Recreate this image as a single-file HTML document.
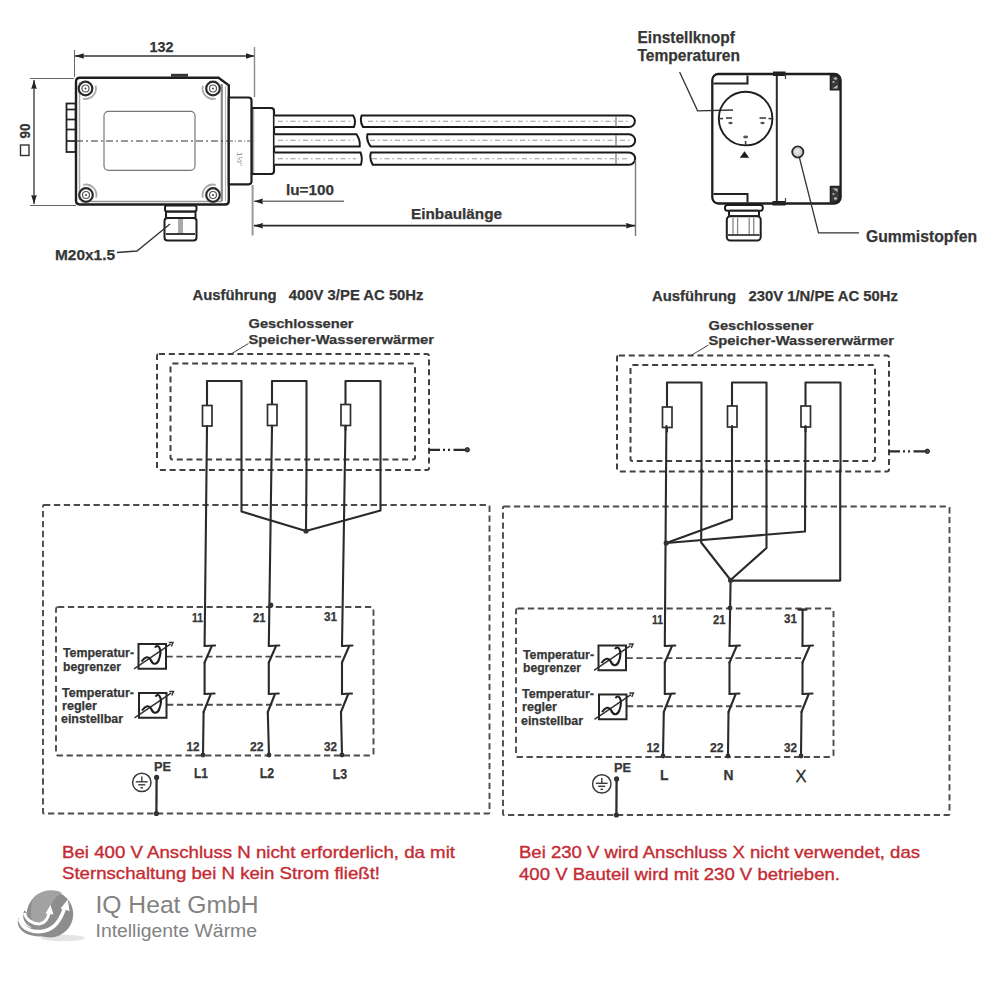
<!DOCTYPE html>
<html><head><meta charset="utf-8">
<style>
html,body{margin:0;padding:0;background:#fff;width:1000px;height:1000px;overflow:hidden}
svg{display:block;position:absolute;left:0;top:0}
text{font-family:"Liberation Sans",sans-serif}
.b{font-weight:bold;fill:#363636;stroke:#363636;stroke-width:0.25}
.w{stroke:#2a2a2a;stroke-width:2.1;fill:none;stroke-linecap:round;stroke-linejoin:round}
.d1{stroke:#404040;stroke-width:2;fill:none;stroke-dasharray:6 3.8}
.d2{stroke:#4c4c4c;stroke-width:1.9;fill:none;stroke-dasharray:6.3 3.6}
.thin{stroke:#444;stroke-width:1;fill:none}
.red{fill:#c42b33;stroke:#c42b33;stroke-width:0.35}
</style></head><body>
<svg width="1000" height="1000" viewBox="0 0 1000 1000">
<defs>
  <marker id="ar" markerWidth="9" markerHeight="6" refX="9" refY="3" orient="auto" markerUnits="userSpaceOnUse">
    <path d="M0,0.2 L9,3 L0,5.8 L0.8,3 z" fill="#222"/>
  </marker>
  <marker id="al" markerWidth="9" markerHeight="6" refX="0" refY="3" orient="auto" markerUnits="userSpaceOnUse">
    <path d="M9,0.2 L0,3 L9,5.8 L8.2,3 z" fill="#222"/>
  </marker>
<g id="tbox">
  <rect x="138.5" y="644" width="27.5" height="24.75" fill="#fff" stroke="#262626" stroke-width="2"/>
  <line x1="134" y1="668.8" x2="170.5" y2="644.2" stroke="#2e2e2e" stroke-width="1.4"/>
  <path d="M168.8,642.5 L173,642.5 L171.3,646.5" fill="none" stroke="#333" stroke-width="1.4"/>
  <path d="M141.5,661.5 C145,656.5 148.5,656 150.5,659.5 C152.5,664.5 156.5,665.5 158.8,660 C160.5,655.5 160.8,650 159.2,647.2 C158,645.2 155.8,645.8 155.2,647.8" fill="none" stroke="#1e1e1e" stroke-width="2.1"/>
</g>
<g id="sw">
  <!-- switch pair template for wire x=0 -->
  <polyline class="w" points="0,646 10.5,645.5"/>
  <polyline class="w" points="7,646.5 0,662.5"/>
  <polyline class="w" points="0,694 10,693.5"/>
  <polyline class="w" points="6,694.5 -1,712"/>
</g>
</defs>

<!-- ============ TOP HEATER DRAWING ============ -->
<g id="heater">
  <text xml:space="preserve" class="b" x="149.5" y="52" font-size="15" textLength="24" lengthAdjust="spacingAndGlyphs">132</text>
  <line x1="75" y1="56" x2="254.5" y2="56" stroke="#333" stroke-width="1.3" marker-start="url(#al)" marker-end="url(#ar)"/>
  <line x1="74.5" y1="50" x2="74.5" y2="77" stroke="#666" stroke-width="1"/>
  <line x1="254.5" y1="47" x2="254.5" y2="97" stroke="#888" stroke-width="1.4"/><line x1="252.6" y1="185" x2="252.6" y2="235.5" stroke="#999" stroke-width="2"/>
  <!-- left dim -->
  <line x1="34" y1="80" x2="34" y2="204" stroke="#333" stroke-width="1.3" marker-start="url(#al)" marker-end="url(#ar)"/>
  <line x1="30" y1="78.5" x2="74" y2="78.5" stroke="#666" stroke-width="1"/>
  <line x1="30" y1="205.5" x2="76" y2="205.5" stroke="#666" stroke-width="1"/>
  <g transform="translate(25,139) rotate(-90)"><rect x="-16.5" y="-4.5" width="10.5" height="8.5" fill="none" stroke="#333" stroke-width="1.4"/><text xml:space="preserve" class="b" x="0.5" y="5" font-size="15" textLength="15" lengthAdjust="spacingAndGlyphs">90</text></g>
  <!-- box -->
  <path d="M80,77.8 H218.5 L228.8,85.3 V201 Q228.8,204.5 225,204.5 H80 Q76,204.5 76,200.5 V81.8 Q76,77.8 80,77.8 Z" fill="#fff" stroke="#1e1e1e" stroke-width="2.4"/>
  <line x1="79.5" y1="82" x2="79.5" y2="200" stroke="#aaa" stroke-width="1.5"/>
  <line x1="81" y1="201.5" x2="222" y2="201.5" stroke="#999" stroke-width="1.5"/>
  <line x1="221.8" y1="84" x2="221.8" y2="201" stroke="#888" stroke-width="2.2"/>
  <line x1="225.5" y1="86" x2="225.5" y2="201" stroke="#bbb" stroke-width="1.2"/>
  <rect x="104" y="111.3" width="91" height="59" rx="4.5" fill="none" stroke="#777" stroke-width="1.2"/>
  <rect x="66.5" y="103.5" width="9" height="48.5" fill="#fff" stroke="#222" stroke-width="1.8"/>
  <g stroke="#222" stroke-width="1.7"><line x1="66.5" y1="109.5" x2="75.5" y2="109.5"/><line x1="66.5" y1="119.5" x2="75.5" y2="119.5"/><line x1="66.5" y1="129.5" x2="75.5" y2="129.5"/><line x1="66.5" y1="141" x2="75.5" y2="141"/></g>
  <rect x="171" y="73.8" width="17" height="3" fill="#333"/>
  <g fill="none" stroke="#aaa" stroke-width="1.8">
    <path d="M95.6,85.8 A10.5,10.5 0 0 1 82.8,98.6"/>
    <path d="M215.7,98.6 A10.5,10.5 0 0 1 202.9,85.8"/>
    <path d="M83.3,184.9 A10.5,10.5 0 0 1 96.1,197.7"/>
    <path d="M202.9,197.7 A10.5,10.5 0 0 1 215.7,184.9"/>
  </g>
  <g fill="#fff" stroke="#2a2a2a" stroke-width="2.2">
    <circle cx="85.5" cy="88.5" r="6.8"/><circle cx="213" cy="88.5" r="6.8"/>
    <circle cx="86" cy="195" r="6.8"/><circle cx="213" cy="195" r="6.8"/>
  </g>
  <g fill="none" stroke="#555" stroke-width="1.2">
    <circle cx="85.5" cy="88.5" r="3.5"/><circle cx="213" cy="88.5" r="3.5"/>
    <circle cx="86" cy="195" r="3.5"/><circle cx="213" cy="195" r="3.5"/>
  </g>
  <g fill="#444"><circle cx="85.5" cy="88.5" r="1"/><circle cx="213" cy="88.5" r="1"/><circle cx="86" cy="195" r="1"/><circle cx="213" cy="195" r="1"/></g>
  <line x1="76" y1="141" x2="250" y2="141" stroke="#333" stroke-width="1.1" stroke-dasharray="7 3 2 3"/>
  <!-- neck -->
  <path d="M228.8,97.5 H248.5 Q251.5,97.5 251.5,100.5 V181.3 Q251.5,184.3 248.5,184.3 H228.8 Z" fill="#fff" stroke="#1e1e1e" stroke-width="2.2"/>
  <path d="M252,108 H271 Q274,108 274,111 V171 Q274,174 271,174 H252 Z" fill="#fff" stroke="#1e1e1e" stroke-width="2.2"/>
  <line x1="253.5" y1="109" x2="253.5" y2="173" stroke="#aaa" stroke-width="1.5"/>
  <line x1="229" y1="141" x2="252" y2="141" stroke="#555" stroke-width="1" stroke-dasharray="4 2 1 2"/>
  <text xml:space="preserve" x="237" y="152" font-size="8" fill="#888" transform="rotate(90 237 152)">1&#189;"</text>
  <!-- tubes -->
  <g stroke="#1a1a1a" stroke-width="2" fill="#fff">
    <path d="M274.5,115.4 H353.2 Q356.5,121 353.9,127.1 H274.5"/>
    <path d="M361.7,115.4 H629 A5.85,5.85 0 0 1 629,127.1 H363 Q359.5,121 361.7,115.4 Z"/>
    <path d="M274.5,134.3 H356.5 Q360.5,140.5 359.7,146.6 H274.5"/>
    <path d="M367.5,134.3 H629 A6.15,6.15 0 0 1 629,146.6 H370.8 Q366,140.5 367.5,134.3 Z"/>
    <path d="M274.5,152.5 H360.5 Q363,158.6 360.8,164.8 H274.5"/>
    <path d="M371,152.5 H629 A6.15,6.15 0 0 1 629,164.8 H372.7 Q369,158.6 371,152.5 Z"/>
  </g>
  <g stroke="#999" stroke-width="1" stroke-dasharray="5 3 1.5 3">
    <line x1="278" y1="121.25" x2="352" y2="121.25"/><line x1="368" y1="121.25" x2="630" y2="121.25"/>
    <line x1="278" y1="140.25" x2="354" y2="140.25"/><line x1="370" y1="140.25" x2="630" y2="140.25"/>
    <line x1="278" y1="158.75" x2="356" y2="158.75"/><line x1="372" y1="158.75" x2="630" y2="158.75"/>
  </g>
  <g stroke="#777" stroke-width="1.2">
    <line x1="616" y1="116" x2="616" y2="126.5"/><line x1="616" y1="135" x2="616" y2="145.5"/><line x1="616" y1="153.5" x2="616" y2="164"/>
  </g>
  <line x1="635.5" y1="160" x2="635.5" y2="236" stroke="#777" stroke-width="1.4"/>
  <text xml:space="preserve" class="b" x="286" y="195" font-size="15" textLength="48" lengthAdjust="spacingAndGlyphs">lu=100</text>
  <line x1="254" y1="201.3" x2="344" y2="201.3" stroke="#777" stroke-width="1.6" marker-start="url(#al)"/>
  <text xml:space="preserve" class="b" x="411" y="219" font-size="14" textLength="91" lengthAdjust="spacingAndGlyphs">Einbaulänge</text>
  <line x1="254" y1="225.7" x2="635" y2="225.7" stroke="#2a2a2a" stroke-width="1.8" marker-start="url(#al)" marker-end="url(#ar)"/>
  <!-- gland -->
  <g fill="#fff" stroke="#1e1e1e" stroke-width="2">
    <rect x="165" y="205.5" width="31.5" height="6" rx="2"/>
    <rect x="166" y="211.8" width="29.5" height="6.3" rx="1"/>
    <rect x="164.5" y="218" width="32" height="22.5" rx="3"/>
  </g>
  <line x1="166" y1="234" x2="195" y2="234" stroke="#222" stroke-width="1.8"/>
  <rect x="178" y="219" width="5" height="14" fill="#aaa"/>
  <text xml:space="preserve" class="b" x="55" y="260" font-size="15" textLength="60" lengthAdjust="spacingAndGlyphs">M20x1.5</text>
  <polyline points="117,252.5 137,251 170,224" fill="none" stroke="#333" stroke-width="1.3"/>
</g>

<!-- ============ THERMOSTAT HEAD ============ -->
<g id="head">
  <text xml:space="preserve" class="b" x="637.5" y="42.5" font-size="17" textLength="97.5" lengthAdjust="spacingAndGlyphs">Einstellknopf</text>
  <text xml:space="preserve" class="b" x="637.5" y="60.5" font-size="16.5" textLength="102.5" lengthAdjust="spacingAndGlyphs">Temperaturen</text>
  <rect x="712.3" y="74" width="128.3" height="129.5" rx="6" fill="#fff" stroke="#1e1e1e" stroke-width="2.3"/>
  <polyline points="679.6,72 697.6,110.8 733,110" fill="none" stroke="#333" stroke-width="1.3"/>
  <line x1="776.8" y1="75" x2="776.8" y2="202.5" stroke="#2a2a2a" stroke-width="2"/>
  <rect x="773" y="71.5" width="12.5" height="4.5" fill="#222"/>
  <rect x="772.5" y="201" width="13" height="4.5" fill="#222"/>
  <line x1="785.5" y1="74" x2="785.5" y2="79" stroke="#444" stroke-width="1.2"/>
  <line x1="785.5" y1="198" x2="785.5" y2="203" stroke="#444" stroke-width="1.2"/>
  <path d="M713.5,83.6 H747.5 V75.5" fill="none" stroke="#222" stroke-width="2"/>
  <path d="M713.5,194 H747.5 V202.5" fill="none" stroke="#222" stroke-width="2"/>
  <g fill="#3a3a3a" stroke="#222" stroke-width="1.6">
    <path d="M830.5,75.5 H835 Q839.5,75.5 839.5,80 V89.8 H830.5 Z"/>
    <path d="M830.5,186.5 H839.5 V197.5 Q839.5,202 835,202 H830.5 Z"/>
  </g>
  <g fill="#bbb">
    <ellipse cx="835.5" cy="78.5" rx="1.6" ry="1.2"/><circle cx="833.5" cy="82" r="1"/><path d="M832.5,88.5 L837.5,85 L837.5,88.5 Z"/>
    <path d="M832.5,188.5 L837.5,188.5 L837.5,192 Z"/><circle cx="833.5" cy="194" r="1"/><ellipse cx="835.5" cy="198.5" rx="1.6" ry="1.2"/>
  </g>
  <circle cx="745.6" cy="118.6" r="26.8" fill="none" stroke="#1e1e1e" stroke-width="1.9"/>
  <g stroke="#333" stroke-width="1.5">
    <line x1="719.5" y1="118.6" x2="723" y2="118.6"/>
    <line x1="726" y1="118" x2="732" y2="118"/>
    <line x1="759.5" y1="118" x2="766" y2="118"/>
    <line x1="768.5" y1="118.6" x2="772" y2="118.6"/>
    <line x1="745.6" y1="141" x2="745.6" y2="145.5"/>
  </g>
  <g fill="#555"><ellipse cx="730.5" cy="123" rx="2.2" ry="1.3"/><ellipse cx="762.5" cy="123" rx="2.2" ry="1.3"/><ellipse cx="745.6" cy="137" rx="2.5" ry="1.4"/></g>
  <path d="M739.8,157.8 L744.5,151.3 L749.2,157.8 Z" fill="#1e1e1e"/>
  <defs><radialGradient id="gs" cx="0.45" cy="0.45" r="0.6"><stop offset="0" stop-color="#eee"/><stop offset="1" stop-color="#bbb"/></radialGradient></defs>
  <circle cx="797.8" cy="152" r="5.6" fill="url(#gs)" stroke="#2a2a2a" stroke-width="1.8"/>
  <polyline points="799.5,158 818.5,232.8 859,232.8" fill="none" stroke="#333" stroke-width="1.3"/>
  <text xml:space="preserve" class="b" x="866" y="242" font-size="16.5" textLength="111" lengthAdjust="spacingAndGlyphs">Gummistopfen</text>
  <g fill="#fff" stroke="#1e1e1e" stroke-width="2">
    <rect x="725" y="205" width="37.8" height="5.7" rx="2.5"/>
    <rect x="729" y="210.7" width="30" height="5.6" rx="1"/>
    <rect x="726.8" y="216.3" width="33.9" height="24.2" rx="3.5"/>
  </g>
  <line x1="728" y1="235" x2="759.5" y2="235" stroke="#222" stroke-width="1.6"/>
  <g stroke="#888" stroke-width="1.3"><line x1="733" y1="218" x2="733" y2="234"/><line x1="737.6" y1="218" x2="737.6" y2="234"/><line x1="749.2" y1="218" x2="749.2" y2="234"/><line x1="753.7" y1="218" x2="753.7" y2="234"/></g>
</g>

<!-- ============ CIRCUITS COMMON ============ -->

<g id="diag">
  <text xml:space="preserve" class="b" x="248.5" y="328" font-size="13.5" textLength="105" lengthAdjust="spacingAndGlyphs">Geschlossener</text>
  <text xml:space="preserve" class="b" x="248.5" y="343.5" font-size="13.5" textLength="185.5" lengthAdjust="spacingAndGlyphs">Speicher-Wassererwärmer</text>
  <line x1="231" y1="354" x2="248.5" y2="343.5" class="thin" stroke-width="1.1"/>
  <rect x="157" y="354" width="272" height="116" rx="2" class="d1"/>
  <rect x="170.5" y="363.5" width="244.5" height="96" rx="2" class="d1"/>
  <path d="M428.5,449.8 H440 M443,449.8 H445 M448,449.8 H450 M453.5,449.8 H465" stroke="#2a2a2a" stroke-width="2.2" fill="none"/>
  <circle cx="467.3" cy="449.8" r="2.2" fill="#444" stroke="#222" stroke-width="1"/>
  <g class="w">
    <polyline points="207,430 207,381 241.5,381 241.5,470"/>
    <polyline points="272,430 272,381 306.5,381 306.5,470"/>
    <polyline points="345.5,430 345.5,381 380.5,381 380.5,470"/>
  </g>
  <g fill="#fff" stroke="#2e2e2e" stroke-width="1.7">
    <rect x="202.5" y="405.5" width="9.5" height="20.5"/>
    <rect x="267.5" y="404.5" width="9.5" height="21"/>
    <rect x="341" y="404.5" width="9.5" height="21"/>
  </g>
  <rect x="43" y="505" width="446.5" height="308.5" rx="1" class="d2"/>
  <rect x="56" y="607" width="317.5" height="148.5" rx="2" class="d2"/>
  <line x1="166.5" y1="656.6" x2="342" y2="656.6" class="d2"/>
  <line x1="167" y1="704.8" x2="342" y2="704.8" class="d2"/>
  <g>
  <rect x="138.5" y="644" width="27.5" height="24.75" fill="#fff" stroke="#262626" stroke-width="2"/>
  <line x1="134" y1="668.8" x2="170.5" y2="644.2" stroke="#2e2e2e" stroke-width="1.4"/>
  <path d="M168.8,642.5 L173,642.5 L171.3,646.5" fill="none" stroke="#333" stroke-width="1.4"/>
  <path d="M141.5,661.5 C145,656.5 148.5,656 150.5,659.5 C152.5,664.5 156.5,665.5 158.8,660 C160.5,655.5 160.8,650 159.2,647.2 C158,645.2 155.8,645.8 155.2,647.8" fill="none" stroke="#1e1e1e" stroke-width="2.1"/>
</g>
  <g transform="translate(0.5,49)">
  <rect x="138.5" y="644" width="27.5" height="24.75" fill="#fff" stroke="#262626" stroke-width="2"/>
  <line x1="134" y1="668.8" x2="170.5" y2="644.2" stroke="#2e2e2e" stroke-width="1.4"/>
  <path d="M168.8,642.5 L173,642.5 L171.3,646.5" fill="none" stroke="#333" stroke-width="1.4"/>
  <path d="M141.5,661.5 C145,656.5 148.5,656 150.5,659.5 C152.5,664.5 156.5,665.5 158.8,660 C160.5,655.5 160.8,650 159.2,647.2 C158,645.2 155.8,645.8 155.2,647.8" fill="none" stroke="#1e1e1e" stroke-width="2.1"/>
</g>
  <g class="b" font-size="12">
    <text xml:space="preserve" x="203" y="622" text-anchor="end" textLength="11" lengthAdjust="spacingAndGlyphs">11</text>
    <text xml:space="preserve" x="265.5" y="622" text-anchor="end" textLength="12.5" lengthAdjust="spacingAndGlyphs">21</text>
    <text xml:space="preserve" x="337" y="621" text-anchor="end" textLength="13" lengthAdjust="spacingAndGlyphs">31</text>
    <text xml:space="preserve" x="199.5" y="750.5" text-anchor="end" textLength="13" lengthAdjust="spacingAndGlyphs">12</text>
    <text xml:space="preserve" x="263.5" y="750.5" text-anchor="end" textLength="13.5" lengthAdjust="spacingAndGlyphs">22</text>
    <text xml:space="preserve" x="337" y="750.5" text-anchor="end" textLength="13" lengthAdjust="spacingAndGlyphs">32</text>
  </g>
  <g class="b" font-size="12" fill="#444">
    <text xml:space="preserve" x="63" y="657" textLength="71" lengthAdjust="spacingAndGlyphs">Temperatur-</text>
    <text xml:space="preserve" x="63" y="670.5" textLength="58" lengthAdjust="spacingAndGlyphs">begrenzer</text>
    <text xml:space="preserve" x="62" y="696.5" textLength="72" lengthAdjust="spacingAndGlyphs">Temperatur-</text>
    <text xml:space="preserve" x="62" y="709.5" textLength="35" lengthAdjust="spacingAndGlyphs">regler</text>
    <text xml:space="preserve" x="61" y="723" textLength="62" lengthAdjust="spacingAndGlyphs">einstellbar</text>
  </g>
  <text xml:space="preserve" class="b" x="154" y="770.5" font-size="12.5" textLength="17" lengthAdjust="spacingAndGlyphs">PE</text>
  <circle cx="141.8" cy="782.4" r="9.2" fill="none" stroke="#3a3a3a" stroke-width="1.5"/>
  <g stroke="#3a3a3a" stroke-width="1.4">
    <line x1="141.8" y1="776.5" x2="141.8" y2="781.8"/>
    <line x1="135.8" y1="781.8" x2="147.6" y2="781.8"/>
    <line x1="138.2" y1="784.8" x2="145.2" y2="784.8"/>
    <line x1="140.5" y1="787.8" x2="143" y2="787.8"/>
  </g>
  <line x1="156.6" y1="777.4" x2="156.4" y2="813.5" stroke="#2e2e2e" stroke-width="2.3"/>
  <circle cx="156.6" cy="777.4" r="2.6" fill="#333"/>
  <circle cx="156.4" cy="813.5" r="2.6" fill="#333"/>
</g>


<!-- LEFT specific -->
<g id="leftw">
  <text xml:space="preserve" class="b" x="192.5" y="300" font-size="14" textLength="231" lengthAdjust="spacingAndGlyphs">Ausführung   400V 3/PE AC 50Hz</text>

  <g class="w">
    <polyline points="207,426 204.6,646"/>
    <polyline points="204.6,662.5 204.6,694"/>
    <polyline points="203.6,712 203,755"/>
    <polyline points="272,426 268.8,646"/>
    <polyline points="268.8,662.5 268.8,694"/>
    <polyline points="267.8,712 269,755"/>
    <polyline points="345.5,426 342,646"/>
    <polyline points="342,662.5 342,694"/>
    <polyline points="341,712 342,755"/>
    <polyline points="241.5,470 241.5,511.5 306,531 380.5,510.5 380.5,470"/>
    <polyline points="306.5,470 306,531"/>
  </g>
  <g transform="translate(204.6,0)">
  <!-- switch pair template for wire x=0 -->
  <polyline class="w" points="0,646 10.5,645.5"/>
  <polyline class="w" points="7,646.5 0,662.5"/>
  <polyline class="w" points="0,694 10,693.5"/>
  <polyline class="w" points="6,694.5 -1,712"/>
</g>
  <g transform="translate(268.8,0)">
  <!-- switch pair template for wire x=0 -->
  <polyline class="w" points="0,646 10.5,645.5"/>
  <polyline class="w" points="7,646.5 0,662.5"/>
  <polyline class="w" points="0,694 10,693.5"/>
  <polyline class="w" points="6,694.5 -1,712"/>
</g>
  <g transform="translate(342,0)">
  <!-- switch pair template for wire x=0 -->
  <polyline class="w" points="0,646 10.5,645.5"/>
  <polyline class="w" points="7,646.5 0,662.5"/>
  <polyline class="w" points="0,694 10,693.5"/>
  <polyline class="w" points="6,694.5 -1,712"/>
</g>
  <g fill="#333">
    <circle cx="306" cy="531" r="2.6"/><circle cx="270.8" cy="605" r="2.6"/>
    <circle cx="203" cy="755" r="2.4"/><circle cx="269" cy="755" r="2.4"/><circle cx="342" cy="755" r="2.4"/>
  </g>
  <g class="b" font-size="14">
    <text xml:space="preserve" x="201" y="778" text-anchor="middle" textLength="14" lengthAdjust="spacingAndGlyphs">L1</text>
    <text xml:space="preserve" x="267" y="778" text-anchor="middle" textLength="14.5" lengthAdjust="spacingAndGlyphs">L2</text>
    <text xml:space="preserve" x="340" y="779" text-anchor="middle" textLength="14.5" lengthAdjust="spacingAndGlyphs">L3</text>
  </g>
  <text xml:space="preserve" x="62" y="858" font-size="17" class="red" textLength="393" lengthAdjust="spacingAndGlyphs">Bei 400 V Anschluss N nicht erforderlich, da mit</text>
  <text xml:space="preserve" x="62" y="879" font-size="17" class="red" textLength="318" lengthAdjust="spacingAndGlyphs">Sternschaltung bei N kein Strom fließt!</text>
</g>

<!-- RIGHT -->
<g transform="translate(460,1.5)">
  <g>
  <text xml:space="preserve" class="b" x="248.5" y="328" font-size="13.5" textLength="105" lengthAdjust="spacingAndGlyphs">Geschlossener</text>
  <text xml:space="preserve" class="b" x="248.5" y="343.5" font-size="13.5" textLength="185.5" lengthAdjust="spacingAndGlyphs">Speicher-Wassererwärmer</text>
  <line x1="231" y1="354" x2="248.5" y2="343.5" class="thin" stroke-width="1.1"/>
  <rect x="157" y="354" width="272" height="116" rx="2" class="d1"/>
  <rect x="170.5" y="363.5" width="244.5" height="96" rx="2" class="d1"/>
  <path d="M428.5,449.8 H440 M443,449.8 H445 M448,449.8 H450 M453.5,449.8 H465" stroke="#2a2a2a" stroke-width="2.2" fill="none"/>
  <circle cx="467.3" cy="449.8" r="2.2" fill="#444" stroke="#222" stroke-width="1"/>
  <g class="w">
    <polyline points="207,430 207,381 241.5,381 241.5,470"/>
    <polyline points="272,430 272,381 306.5,381 306.5,470"/>
    <polyline points="345.5,430 345.5,381 380.5,381 380.5,470"/>
  </g>
  <g fill="#fff" stroke="#2e2e2e" stroke-width="1.7">
    <rect x="202.5" y="405.5" width="9.5" height="20.5"/>
    <rect x="267.5" y="404.5" width="9.5" height="21"/>
    <rect x="341" y="404.5" width="9.5" height="21"/>
  </g>
  <rect x="43" y="505" width="446.5" height="308.5" rx="1" class="d2"/>
  <rect x="56" y="607" width="317.5" height="148.5" rx="2" class="d2"/>
  <line x1="166.5" y1="656.6" x2="342" y2="656.6" class="d2"/>
  <line x1="167" y1="704.8" x2="342" y2="704.8" class="d2"/>
  <g>
  <rect x="138.5" y="644" width="27.5" height="24.75" fill="#fff" stroke="#262626" stroke-width="2"/>
  <line x1="134" y1="668.8" x2="170.5" y2="644.2" stroke="#2e2e2e" stroke-width="1.4"/>
  <path d="M168.8,642.5 L173,642.5 L171.3,646.5" fill="none" stroke="#333" stroke-width="1.4"/>
  <path d="M141.5,661.5 C145,656.5 148.5,656 150.5,659.5 C152.5,664.5 156.5,665.5 158.8,660 C160.5,655.5 160.8,650 159.2,647.2 C158,645.2 155.8,645.8 155.2,647.8" fill="none" stroke="#1e1e1e" stroke-width="2.1"/>
</g>
  <g transform="translate(0.5,49)">
  <rect x="138.5" y="644" width="27.5" height="24.75" fill="#fff" stroke="#262626" stroke-width="2"/>
  <line x1="134" y1="668.8" x2="170.5" y2="644.2" stroke="#2e2e2e" stroke-width="1.4"/>
  <path d="M168.8,642.5 L173,642.5 L171.3,646.5" fill="none" stroke="#333" stroke-width="1.4"/>
  <path d="M141.5,661.5 C145,656.5 148.5,656 150.5,659.5 C152.5,664.5 156.5,665.5 158.8,660 C160.5,655.5 160.8,650 159.2,647.2 C158,645.2 155.8,645.8 155.2,647.8" fill="none" stroke="#1e1e1e" stroke-width="2.1"/>
</g>
  <g class="b" font-size="12">
    <text xml:space="preserve" x="203" y="622" text-anchor="end" textLength="11" lengthAdjust="spacingAndGlyphs">11</text>
    <text xml:space="preserve" x="265.5" y="622" text-anchor="end" textLength="12.5" lengthAdjust="spacingAndGlyphs">21</text>
    <text xml:space="preserve" x="337" y="621" text-anchor="end" textLength="13" lengthAdjust="spacingAndGlyphs">31</text>
    <text xml:space="preserve" x="199.5" y="750.5" text-anchor="end" textLength="13" lengthAdjust="spacingAndGlyphs">12</text>
    <text xml:space="preserve" x="263.5" y="750.5" text-anchor="end" textLength="13.5" lengthAdjust="spacingAndGlyphs">22</text>
    <text xml:space="preserve" x="337" y="750.5" text-anchor="end" textLength="13" lengthAdjust="spacingAndGlyphs">32</text>
  </g>
  <g class="b" font-size="12" fill="#444">
    <text xml:space="preserve" x="63" y="657" textLength="71" lengthAdjust="spacingAndGlyphs">Temperatur-</text>
    <text xml:space="preserve" x="63" y="670.5" textLength="58" lengthAdjust="spacingAndGlyphs">begrenzer</text>
    <text xml:space="preserve" x="62" y="696.5" textLength="72" lengthAdjust="spacingAndGlyphs">Temperatur-</text>
    <text xml:space="preserve" x="62" y="709.5" textLength="35" lengthAdjust="spacingAndGlyphs">regler</text>
    <text xml:space="preserve" x="61" y="723" textLength="62" lengthAdjust="spacingAndGlyphs">einstellbar</text>
  </g>
  <text xml:space="preserve" class="b" x="154" y="770.5" font-size="12.5" textLength="17" lengthAdjust="spacingAndGlyphs">PE</text>
  <circle cx="141.8" cy="782.4" r="9.2" fill="none" stroke="#3a3a3a" stroke-width="1.5"/>
  <g stroke="#3a3a3a" stroke-width="1.4">
    <line x1="141.8" y1="776.5" x2="141.8" y2="781.8"/>
    <line x1="135.8" y1="781.8" x2="147.6" y2="781.8"/>
    <line x1="138.2" y1="784.8" x2="145.2" y2="784.8"/>
    <line x1="140.5" y1="787.8" x2="143" y2="787.8"/>
  </g>
  <line x1="156.6" y1="777.4" x2="156.4" y2="813.5" stroke="#2e2e2e" stroke-width="2.3"/>
  <circle cx="156.6" cy="777.4" r="2.6" fill="#333"/>
  <circle cx="156.4" cy="813.5" r="2.6" fill="#333"/>
</g>
</g>
<g id="rightw">
  <text xml:space="preserve" class="b" x="652" y="301" font-size="14" textLength="246" lengthAdjust="spacingAndGlyphs">Ausführung   230V 1/N/PE AC 50Hz</text>
  <g class="w">
    <polyline points="666.4,426 664.8,646"/>
    <polyline points="664.8,662.5 664.8,694"/>
    <polyline points="663.8,712 663,756"/>
    <polyline points="701.5,470 701.2,542.5 730.6,580"/>
    <polyline points="732,426 732,519 666.4,543"/>
    <polyline points="766.5,470 766.5,548 730.6,580"/>
    <polyline points="805.5,426 805,531.5 666.4,543"/>
    <polyline points="840.2,470 840.2,580.6 730.6,580.6"/>
    <polyline points="730.6,580 729.5,646"/>
    <polyline points="729.5,662.5 729.5,694"/>
    <polyline points="728.5,712 728,756"/>
    <polyline points="798.5,609.6 806.5,609.6"/>
    <polyline points="802.6,609.6 802.5,646"/>
    <polyline points="802.5,662.5 802.5,694"/>
    <polyline points="801.5,712 801,756"/>
  </g>
  <g transform="translate(664.8,0)">
  <!-- switch pair template for wire x=0 -->
  <polyline class="w" points="0,646 10.5,645.5"/>
  <polyline class="w" points="7,646.5 0,662.5"/>
  <polyline class="w" points="0,694 10,693.5"/>
  <polyline class="w" points="6,694.5 -1,712"/>
</g>
  <g transform="translate(729.5,0)">
  <!-- switch pair template for wire x=0 -->
  <polyline class="w" points="0,646 10.5,645.5"/>
  <polyline class="w" points="7,646.5 0,662.5"/>
  <polyline class="w" points="0,694 10,693.5"/>
  <polyline class="w" points="6,694.5 -1,712"/>
</g>
  <g transform="translate(802.5,0)">
  <!-- switch pair template for wire x=0 -->
  <polyline class="w" points="0,646 10.5,645.5"/>
  <polyline class="w" points="7,646.5 0,662.5"/>
  <polyline class="w" points="0,694 10,693.5"/>
  <polyline class="w" points="6,694.5 -1,712"/>
</g>
  <g fill="#333">
    <circle cx="666.2" cy="543" r="2.6"/><circle cx="730.6" cy="580.3" r="2.6"/><circle cx="730" cy="608" r="2.4"/>
    <circle cx="663" cy="756" r="2.4"/><circle cx="728" cy="756" r="2.4"/><circle cx="801" cy="756" r="2.4"/>
  </g>
  <g class="b" font-size="14">
    <text xml:space="preserve" x="664.2" y="780" text-anchor="middle" textLength="8.5" lengthAdjust="spacingAndGlyphs">L</text>
    <text xml:space="preserve" x="728.5" y="780" text-anchor="middle" textLength="10" lengthAdjust="spacingAndGlyphs">N</text>
  </g>
  <text xml:space="preserve" x="795.6" y="781.5" font-size="16.5" fill="#2a2a2a" stroke="#2a2a2a" stroke-width="0.3" textLength="11" lengthAdjust="spacingAndGlyphs">X</text>
  <text xml:space="preserve" x="519" y="857.5" font-size="17" class="red" textLength="401" lengthAdjust="spacingAndGlyphs">Bei 230 V wird Anschluss X nicht verwendet, das</text>
  <text xml:space="preserve" x="519" y="880" font-size="17" class="red" textLength="321" lengthAdjust="spacingAndGlyphs">400 V Bauteil wird mit 230 V betrieben.</text>
</g>

<!-- LOGO -->
<g id="logo">
  <ellipse cx="63" cy="938" rx="22" ry="3.2" fill="#e4e4e4"/>
  <circle cx="50" cy="914.2" r="23.2" fill="#8d8d8d"/>
  <path d="M35,896 C44,889 56,889 62,893 C54,897 50,905 49,912 C47,920 40,926 33,925 C30,915 30,903 35,896 Z" fill="#a2a2a2"/>
  <path d="M52,935 C38,938.5 23,936 18.5,926 C17.3,922.5 17.6,920 18.8,917.8 C22,925 30,929 40,929.5 Z" fill="#8d8d8d"/>
  <path d="M24.2,910.5 C21,918 25,926 34,928 L38,925 C31,923 27,918 26.5,912 Z" fill="#8d8d8d"/>
  <path d="M19.6,919 C22,930 34,933 44,931 C54,929 61,920 64.8,907" fill="none" stroke="#fff" stroke-width="3.6" stroke-linecap="butt"/>
  <path d="M60.5,908.5 L67.8,899.5 L69.5,911 Z" fill="#fff"/>
  <path d="M24.5,913 C26,920 33,924.5 40,923.8 C45,923 48,919 49.5,912" fill="none" stroke="#fff" stroke-width="3" stroke-linecap="butt"/>
  <path d="M45.5,913.5 L50.5,905 L53.5,914.5 Z" fill="#fff"/>
  <text xml:space="preserve" x="95.5" y="913" font-size="24.5" fill="#828282" textLength="163" lengthAdjust="spacingAndGlyphs">IQ Heat GmbH</text>
  <text xml:space="preserve" x="95.5" y="936.5" font-size="18" fill="#828282" textLength="161.5" lengthAdjust="spacingAndGlyphs">Intelligente Wärme</text>
</g>
</svg>
</body></html>
